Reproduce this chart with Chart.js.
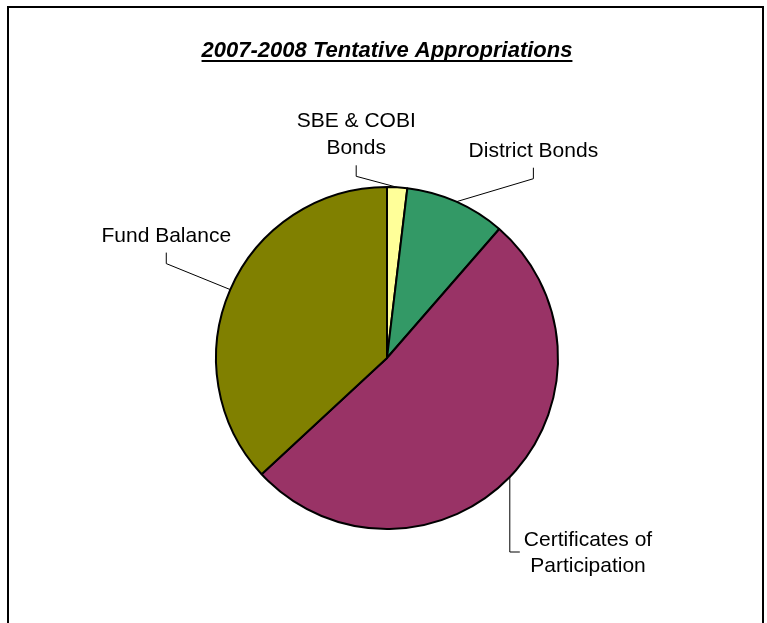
<!DOCTYPE html>
<html>
<head>
<meta charset="utf-8">
<script src="https://cdn.jsdelivr.net/npm/chart.js@4"></script>
<style>
html, body { margin: 0; padding: 0; background: #fff; }
#wrap { position: relative; width: 767px; height: 623px; overflow: hidden; }
#chart { position: absolute; left: 0; top: 0; }
#frame { position: absolute; left: 7px; top: 6px; width: 753px; height: 660px; border: 2px solid #000; pointer-events: none; }
</style>
</head>
<body>
<div id="wrap">
<canvas id="chart" width="767" height="623"></canvas>
<div id="frame"></div>
</div>
<script>
// funding sources, percent of total
const labels = ["SBE & COBI\nBonds", "District Bonds", "Certificates of\nParticipation", "Fund Balance"];
const values = [1.9, 9.5, 51.7, 36.9];
const colors = ["#FFFF99", "#339966", "#993366", "#808000"];

const title = "2007-2008 Tentative Appropriations";

// elbow offset from slice edge, and how the leader bends
const leaderOffsets = [[-41, -11], [77, -23], [10, 75], [-64, -26]];
const leaderKinds = ["up", "up", "side", "up"];

const font = "Liberation Sans, Arial, sans-serif";

// title + leader lines + outside labels
const pieLabels = {
id: "pieLabels",
afterDraw(c){
const ctx = c.ctx;
ctx.save();

// TITLE
ctx.font = "italic bold 22px " + font;
ctx.fillStyle = "#000";
ctx.textAlign = "center";
ctx.textBaseline = "alphabetic";
const tx = 387, ty = 57;
ctx.fillText(title, tx, ty);
const tw = ctx.measureText(title).width;
ctx.fillRect(tx - tw/2, ty + 3, tw, 2);

// LABELS
const arcs = c.getDatasetMeta(0).data;
ctx.font = "21px " + font;
ctx.strokeStyle = "#000";
ctx.lineWidth = 1;
ctx.textAlign = "center";
arcs.forEach((a, i) => {
const mid = (a.startAngle + a.endAngle) / 2;
const px = a.x + Math.cos(mid) * a.outerRadius;
const py = a.y + Math.sin(mid) * a.outerRadius;
const ex = px + leaderOffsets[i][0];
const ey = py + leaderOffsets[i][1];
const lines = labels[i].split("\n");

ctx.beginPath();
if(leaderKinds[i] === "side"){
ctx.moveTo(px, py);
ctx.lineTo(px, ey);
ctx.lineTo(ex, ey);
ctx.stroke();
const w = Math.max(...lines.map(l => ctx.measureText(l).width));
lines.forEach((l, k) => ctx.fillText(l, ex + 4 + w/2, ey - 6 + k*26));
}else{
ctx.moveTo(px, py);
ctx.lineTo(ex, ey);
ctx.lineTo(ex, ey - 11);
ctx.stroke();
const base = ey - 22;
lines.forEach((l, k) => ctx.fillText(l, ex, base - (lines.length - 1 - k)*27));
}
});
ctx.restore();
}
};

new Chart(document.getElementById("chart"), {
type: "pie",
data: {
labels: labels,
datasets: [{
data: values,
backgroundColor: colors,
borderColor: "#000",
borderWidth: 2
}]
},
options: {
responsive: false,
animation: false,
layout: { padding: { left: 215, right: 208, top: 186, bottom: 93 } },
plugins: {
legend: { display: false },
title: { display: false },
tooltip: { enabled: false }
}
},
plugins: [pieLabels]
});
</script>
</body>
</html>
